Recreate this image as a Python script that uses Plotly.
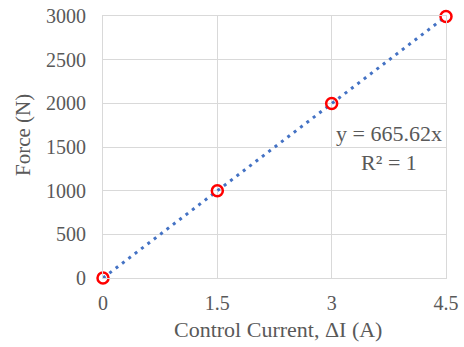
import numpy as np
import plotly.graph_objects as go

# Measured control current vs. force
current_a = [0, 1.5, 3, 4.5]
force_n = [0, 998, 1997, 2995]
slope = 665.62  # linear fit through origin, y = 665.62x

x_ticks = [0, 1.5, 3, 4.5]
y_ticks = [0, 500, 1000, 1500, 2000, 2500, 3000]

fit_x = np.linspace(0, 4.5, 60)
fit_y = slope * fit_x

FONT = "Liberation Serif"
TXT = "#595959"
GRID = "#d9d9d9"

fig = go.Figure()
fig.add_trace(go.Scatter(
    x=fit_x, y=fit_y, mode="lines",
    line=dict(color="#4472C4", width=3, dash="3px,5px"),
    cliponaxis=False, hoverinfo="skip", showlegend=False,
))
fig.add_trace(go.Scatter(
    x=current_a, y=force_n, mode="markers",
    marker=dict(symbol="circle-open", size=11, color="#FF0000",
                line=dict(width=2.5, color="#FF0000")),
    cliponaxis=False, showlegend=False,
))

# trendline equation
fig.add_annotation(
    x=3.75, y=1489, xref="x", yref="y", xanchor="center", yanchor="middle",
    text=f"y = {slope}x<br>R² = 1", showarrow=False,
    font=dict(family=FONT, size=22, color=TXT), align="center",
)
# axis titles
fig.add_annotation(
    x=-0.233, y=0.546, xref="paper", yref="paper",
    xanchor="center", yanchor="middle",
    text="Force (N)", textangle=-90, showarrow=False,
    font=dict(family=FONT, size=21, color=TXT),
)
fig.add_annotation(
    x=0.51, y=-0.198, xref="paper", yref="paper",
    xanchor="center", yanchor="middle",
    text="Control Current, ΔI (A)", showarrow=False,
    font=dict(family=FONT, size=22, color=TXT),
)

fig.update_layout(
    width=464, height=347,
    margin=dict(l=103, r=18, t=16, b=69),
    paper_bgcolor="white", plot_bgcolor="white",
    font=dict(family=FONT, color=TXT),
    xaxis=dict(
        range=[0, 4.5], tickvals=x_ticks, ticktext=[str(v) for v in x_ticks],
        showgrid=True, gridcolor=GRID, gridwidth=1, zeroline=False,
        showline=True, linecolor=GRID, mirror=True, automargin=False,
        ticks="outside", ticklen=7, tickcolor="rgba(0,0,0,0)",
        tickfont=dict(family=FONT, size=20, color=TXT),
    ),
    yaxis=dict(
        range=[0, 3000], tickvals=y_ticks,
        showgrid=True, gridcolor=GRID, gridwidth=1, zeroline=False,
        showline=True, linecolor=GRID, mirror=True, automargin=False,
        ticks="outside", ticklen=12, tickcolor="rgba(0,0,0,0)",
        tickfont=dict(family=FONT, size=20, color=TXT),
    ),
)

fig.write_html("out.html")
